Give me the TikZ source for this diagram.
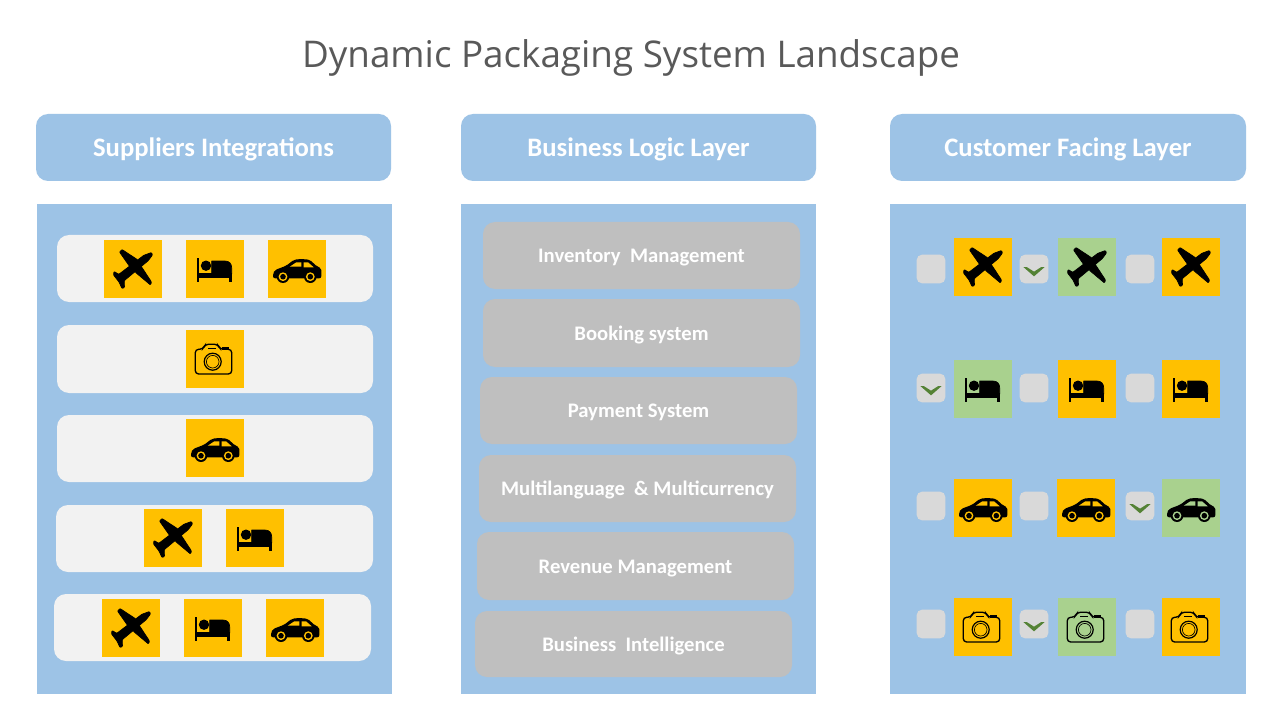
\documentclass[tikz,border=0pt]{standalone}
\usepackage{xcolor}
\usepackage{fontspec}
\setmainfont{Carlito}
\newfontfamily\titlefont{Open Sans}
\definecolor{panelblue}{HTML}{9DC3E6}
\definecolor{amber}{HTML}{FFC000}
\definecolor{leaf}{HTML}{A9D18E}
\definecolor{greybar}{HTML}{BFBFBF}
\definecolor{whitebar}{HTML}{F2F2F2}
\definecolor{tickbox}{HTML}{D9D9D9}
\definecolor{tickgreen}{HTML}{548235}
\definecolor{titlegrey}{HTML}{595959}
\tikzset{
  box/.style={rectangle,inner sep=0pt,outer sep=0pt,anchor=north west},
  header/.style={box,rounded corners=9pt,fill=panelblue,text=white,text height=14pt,text depth=0pt,font=\bfseries\fontsize{20}{22}\selectfont},
  panel/.style={box,fill=panelblue},
  whiterow/.style={box,rounded corners=9pt,fill=whitebar},
  greyrow/.style={box,rounded corners=9pt,fill=greybar,text=white,text height=11.2pt,text depth=0pt,font=\bfseries\fontsize{15.5}{17}\selectfont},
  tile/.style={rectangle,inner sep=0pt,outer sep=0pt,minimum size=43.5pt,fill=#1},
  check/.style={rectangle,inner sep=0pt,outer sep=0pt,minimum size=21.5pt,rounded corners=4pt,fill=tickbox},
  ink/.style={fill=black,draw=black,line width=0.5pt,line join=round},
  plane/.pic={
    \path[ink,rounded corners=0.6pt] (18.5,-16.5) -- (19.5,-14) -- (15.2,-8.3) -- (-8.8,11.7) -- (-8.5,18.5) -- (-11,19.5) -- (-14,13) -- (-19.5,6) -- (-19,2.5) -- (-14.2,5.3) -- (10.8,-13.7) -- cycle;
    \path[ink,rounded corners=0.6pt] (-13.5,-17) -- (-11,-19.5) -- (5,-9) -- (-3,-2) -- cycle;
    \path[ink,rounded corners=0.6pt] (2,3) -- (8,-3) -- (18.5,13) -- (17.5,16) -- cycle;
  },
  bed/.pic={
    \fill[black] (-18.3,-10.7) rectangle (-15.7,12.7);
    \fill[black] (-18.3,4.3) rectangle (16.7,8.6);
    \fill[black] (13.7,4.3) rectangle (16.9,12.7);
    \fill[black] (-9,-3.3) circle (5.2);
    \path[ink] (-3.3,5) -- (-3.3,-8) -- (10,-8) .. controls (14.5,-8) and (16.7,-5) .. (16.7,-1) -- (16.7,5) -- cycle;
  },
  car/.pic={
    \fill[black,rounded corners=1.5pt] (-24,9.3) -- (-24,4.3) -- (-22,1) -- (-10.7,-3.3) -- (-3,-9.3) -- (4,-10) -- (12.7,-9.3) -- (20,-2.5) -- (24.3,-1) -- (24.3,9.3) -- cycle;
    \fill[tilebg] (-7.3,-2.3) -- (-0.7,-6.7) -- (4.3,-6.7) -- (4.3,-2.3) -- cycle;
    \fill[tilebg] (6.7,-6.7) -- (11,-6.7) -- (16.7,-1.7) -- (6.7,-1.7) -- cycle;
    \foreach \wx in {-14,13.3} {
      \fill[black] (\wx,7.7) circle (6.3);
      \fill[tilebg] (\wx,7.7) circle (4.4);
      \fill[black] (\wx,7.7) circle (2.8);
    }
  },
  camera/.pic={
    \draw[black,line width=1pt,rounded corners=2.5pt] (-19.7,-9.7) -- (-12,-9.7) -- (-10,-14.7) -- (3,-14.7) -- (5,-9.7) -- (16.7,-9.7) -- (16.7,15) -- (-19.7,15) -- cycle;
    \draw[black,line width=0.9pt] (-2.3,2.7) circle (8.5);
    \draw[black,line width=0.5pt] (-2.3,2.7) circle (6.3);
    \draw[black,line width=0.5pt] (-7,-10.5) -- (1,-10.5);
    \fill[black] (7,-12.3) rectangle (13.7,-9);
  },
}
\begin{document}
\begin{tikzpicture}[x=0.75pt,y=-0.75pt]
    \useasboundingbox (0,0) rectangle (1280,720);
    \fill[white] (0,0) rectangle (1280,720);
    \node[text=titlegrey,font=\titlefont\fontsize{27.6}{32}\selectfont] (title) at (631,58) {Dynamic Packaging System Landscape};
    % three columns
    \foreach \n/\x/\px/\w/\t in {sup/36/37/355/Suppliers Integrations,log/461/461/355/Business Logic Layer,cus/890/890/356/Customer Facing Layer}
    {
      \node[header,minimum width=\w*0.75pt,minimum height=50.25pt] (head\n) at (\x,114) {\t};
      \node[panel,minimum width=\w*0.75pt,minimum height=367.5pt] (panel\n) at (\px,204) {};
    }
    % white rows on the left
    \foreach \n/\x/\y/\w/\h in {1/57/235/316/67,2/57/325/316/68,3/57/415/316/67,4/56/505/317/67,5/54/594/317/67}
      \node[whiterow,minimum width=\w*0.75pt,minimum height=\h*0.75pt] (row\n) at (\x,\y) {};
    % grey rows in the middle
    \foreach \n/\x/\y/\h/\t in {1/483/222/67/Inventory\ \ Management,2/483/299/68/Booking system,3/480/377/67/Payment System,4/479/455/67/Multilanguage\ \ \& Multicurrency,5/477/532/68/Revenue Management,6/475/611/66/Business\ \ Intelligence}
      \node[greyrow,minimum width=237.75pt,minimum height=\h*0.75pt] (logic\n) at (\x,\y) {\t};
    % supplier tiles
    \foreach \n/\x/\y/\ic in {a/133/269/plane,b/215/269/bed,c/297/269/car,d/215/359/camera,e/215/448/car,f/173/538/plane,g/255/538/bed,h/131/628/plane,i/213/628/bed,j/295/628/car}
    {
      \colorlet{tilebg}{amber}
      \node[tile=amber] (sup\n) at (\x,\y) {};
      \pic at (sup\n) {\ic};
    }
    % customer tiles
    \foreach \n/\x/\y/\ic/\c in {a/983/267/plane/amber,b/1087/267/plane/leaf,c/1191/267/plane/amber,d/983/389/bed/leaf,e/1087/389/bed/amber,f/1191/389/bed/amber,g/983/508/car/amber,h/1086/508/car/amber,i/1191/508/car/leaf,j/983/627/camera/amber,k/1087/627/camera/leaf,l/1191/627/camera/amber}
    {
      \colorlet{tilebg}{\c}
      \node[tile=\c] (cus\n) at (\x,\y) {};
      \pic at (cus\n) {\ic};
    }
    % check boxes
    \foreach \n/\x/\y in {a/931/269,b/1034/269,c/1140/269,d/931/388,e/1034/388,f/1140/388,g/931/506,h/1034/506,i/1140/506,j/931/624,k/1034/624,l/1140/624}
      \node[check] (box\n) at (\x,\y) {};
    % ticks
    \foreach \n in {b,d,i,k}
      \fill[tickgreen] ([xshift=-8pt,yshift=1.5pt]box\n.center) -- ([xshift=-5.5pt,yshift=1.5pt]box\n.center) -- ([yshift=-2pt]box\n.center) -- ([xshift=5.5pt,yshift=1.5pt]box\n.center) -- ([xshift=8pt,yshift=1.5pt]box\n.center) -- ([yshift=-5.5pt]box\n.center) -- cycle;
\end{tikzpicture}
\end{document}
